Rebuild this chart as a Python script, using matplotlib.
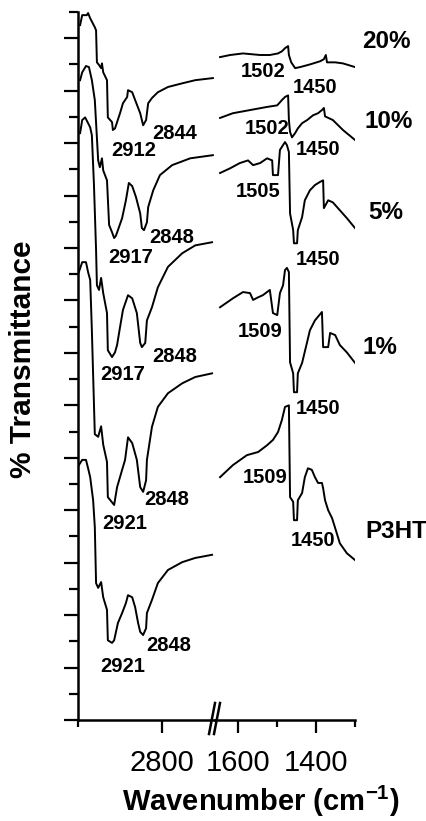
import numpy as np
import matplotlib.pyplot as plt
from matplotlib.lines import Line2D

plt.rcParams['font.family'] = ['Liberation Sans', 'DejaVu Sans']
plt.rcParams['mathtext.fontset'] = 'custom'
plt.rcParams['mathtext.default'] = 'bf'
plt.rcParams['mathtext.bf'] = 'Liberation Sans:bold'
plt.rcParams['mathtext.rm'] = 'Liberation Sans:bold'

# C-H stretching region (left panel), offset transmittance
wn_hi_20 = [2995, 2990, 2979, 2976, 2971, 2960, 2957, 2955, 2950, 2945, 2943, 2940, 2931, 2929, 2919, 2917,
            2912, 2907, 2900, 2893, 2883, 2881, 2871, 2864, 2852, 2845, 2838, 2833, 2824, 2810, 2786, 2752,
            2721, 2679]
t_hi_20 = [13.25, 13.44, 13.44, 13.48, 13.38, 13.21, 13.15, 12.54, 12.49, 12.43, 12.52, 12.35, 12.20, 11.49,
           11.40, 11.25, 11.28, 11.40, 11.57, 11.76, 11.88, 12.01, 11.97, 11.82, 11.57, 11.34, 11.44, 11.76,
           11.86, 11.97, 12.07, 12.14, 12.20, 12.24]

wn_hi_10 = [2995, 2990, 2981, 2974, 2967, 2960, 2952, 2948, 2943, 2940, 2931, 2926, 2919, 2914, 2910, 2905,
            2895, 2886, 2879, 2871, 2862, 2852, 2848, 2843, 2836, 2833, 2821, 2805, 2776, 2733, 2679]
t_hi_10 = [12.20, 12.35, 12.47, 12.45, 12.20, 11.82, 10.67, 10.54, 10.71, 10.48, 10.29, 9.44, 9.30, 9.19,
           9.23, 9.34, 9.57, 9.91, 10.24, 10.18, 9.97, 9.66, 9.38, 9.34, 9.49, 9.78, 10.10, 10.39, 10.58,
           10.71, 10.77]

wn_hi_5 = [2995, 2990, 2983, 2976, 2971, 2967, 2962, 2957, 2955, 2950, 2945, 2940, 2931, 2929, 2919, 2912,
           2907, 2900, 2893, 2881, 2871, 2860, 2852, 2848, 2840, 2836, 2824, 2810, 2786, 2752, 2721, 2681]
t_hi_5 = [11.19, 11.44, 11.49, 11.38, 11.30, 11.15, 10.20, 8.96, 8.29, 8.20, 8.43, 8.14, 7.76, 7.05, 6.92,
          7.01, 7.15, 7.49, 7.82, 8.10, 8.04, 7.76, 7.19, 7.11, 7.19, 7.62, 7.87, 8.25, 8.64, 8.90, 9.05, 9.11]

wn_hi_1 = [2998, 2990, 2981, 2976, 2971, 2967, 2960, 2952, 2945, 2940, 2931, 2929, 2919, 2914, 2907, 2895,
           2888, 2881, 2871, 2860, 2852, 2845, 2838, 2836, 2824, 2810, 2786, 2752, 2721, 2681]
t_hi_1 = [8.54, 8.73, 8.73, 8.54, 8.39, 7.43, 5.45, 5.40, 5.60, 5.25, 4.92, 4.25, 4.15, 4.10, 4.44, 4.77,
          4.96, 5.39, 5.28, 4.96, 4.44, 4.35, 4.57, 4.96, 5.59, 5.97, 6.23, 6.42, 6.54, 6.61]

wn_hi_p3ht = [2998, 2990, 2981, 2976, 2971, 2964, 2960, 2957, 2952, 2945, 2940, 2931, 2929, 2919, 2914, 2905,
              2895, 2886, 2881, 2871, 2864, 2857, 2852, 2845, 2838, 2836, 2824, 2810, 2786, 2752, 2721, 2681]
t_hi_p3ht = [4.86, 4.96, 4.96, 4.80, 4.63, 4.19, 3.68, 2.61, 2.52, 2.63, 2.34, 2.10, 1.52, 1.47, 1.52, 1.85,
             2.04, 2.23, 2.38, 2.34, 2.15, 1.85, 1.68, 1.62, 1.75, 2.04, 2.29, 2.61, 2.86, 3.01, 3.09, 3.15]

# ring stretching region (right panel)
wn_lo_20 = [1647, 1621, 1588, 1544, 1519, 1498, 1488, 1480, 1472, 1470, 1464, 1454, 1441, 1416, 1390, 1380,
            1375, 1372, 1351, 1331, 1300]
t_lo_20 = [12.64, 12.68, 12.71, 12.68, 12.68, 12.71, 12.75, 12.81, 12.85, 12.68, 12.54, 12.43, 12.45, 12.50,
           12.56, 12.60, 12.68, 12.54, 12.54, 12.52, 12.45]

wn_lo_10 = [1647, 1614, 1570, 1526, 1500, 1488, 1480, 1472, 1470, 1467, 1462, 1454, 1447, 1436, 1423, 1408,
            1395, 1385, 1380, 1377, 1357, 1331, 1300]
t_lo_10 = [11.48, 11.57, 11.63, 11.69, 11.72, 11.82, 11.88, 11.91, 11.44, 11.21, 11.11, 11.19, 11.28, 11.38,
           11.44, 11.53, 11.57, 11.63, 11.67, 11.51, 11.44, 11.25, 11.06]

wn_lo_5 = [1647, 1621, 1596, 1575, 1562, 1544, 1526, 1513, 1511, 1498, 1493, 1480, 1475, 1470, 1467, 1459,
           1457, 1449, 1447, 1436, 1429, 1416, 1403, 1390, 1382, 1380, 1369, 1357, 1339, 1321, 1300]
t_lo_5 = [10.43, 10.52, 10.62, 10.67, 10.58, 10.62, 10.71, 10.67, 10.39, 10.39, 10.87, 11.02, 10.96, 10.83,
          9.66, 9.34, 9.09, 9.09, 9.34, 9.59, 9.91, 10.10, 10.20, 10.26, 10.29, 9.76, 9.91, 9.87, 9.72, 9.57,
          9.38]

wn_lo_1 = [1647, 1614, 1588, 1570, 1562, 1549, 1537, 1519, 1511, 1500, 1493, 1485, 1480, 1475, 1470, 1467,
           1459, 1457, 1449, 1447, 1436, 1423, 1416, 1403, 1385, 1382, 1369, 1364, 1351, 1339, 1321, 1300]
t_lo_1 = [7.87, 8.04, 8.16, 8.14, 8.01, 8.06, 8.10, 8.20, 7.76, 7.72, 8.14, 8.29, 8.58, 8.62, 8.54, 6.82,
          6.61, 6.25, 6.25, 6.61, 6.81, 7.21, 7.43, 7.62, 7.78, 7.11, 7.11, 7.38, 7.34, 7.15, 7.01, 6.81]

wn_lo_p3ht = [1647, 1614, 1578, 1549, 1526, 1511, 1498, 1488, 1480, 1470, 1467, 1459, 1457, 1449, 1447, 1436,
              1429, 1421, 1411, 1403, 1395, 1385, 1382, 1377, 1369, 1359, 1351, 1339, 1321, 1300]
t_lo_p3ht = [4.63, 4.86, 5.05, 5.11, 5.24, 5.34, 5.49, 5.72, 5.97, 6.00, 4.25, 4.16, 3.81, 3.81, 4.19, 4.33,
             4.63, 4.80, 4.77, 4.63, 4.52, 4.52, 4.42, 4.19, 4.00, 3.85, 3.66, 3.37, 3.18, 3.05]

sample_names = ['20%', '10%', '5%', '1%', 'P3HT']

# peak annotations: text, wavenumber, y
peaks_hi = [('2844', 2770, 11.18), ('2912', 2868, 10.86), ('2917', 2874, 8.82), ('2848', 2777, 9.20),
            ('2917', 2894, 6.59), ('2848', 2769, 6.93), ('2921', 2889, 3.75), ('2848', 2789, 4.20),
            ('2921', 2894, 1.02), ('2848', 2785, 1.43)]
peaks_lo = [('1502', 1535, 12.36), ('1450', 1403, 12.06), ('1502', 1527, 11.28), ('1450', 1396, 10.87),
            ('1505', 1548, 10.07), ('1450', 1396, 8.78), ('1509', 1543, 7.41), ('1450', 1394, 5.94),
            ('1509', 1530, 4.62), ('1450', 1409, 3.42)]
name_pos = [(1220, 12.93), (1213, 11.41), (1221, 9.67), (1236, 7.10), (1194, 3.59)]

W, H = 427, 821
fig = plt.figure(figsize=(W / 100, H / 100), dpi=100)
ax1 = fig.add_axes([78 / W, 101 / H, 137 / W, 708 / H])
ax2 = fig.add_axes([215 / W, 101 / H, 140 / W, 708 / H])

hi = [(wn_hi_20, t_hi_20), (wn_hi_10, t_hi_10), (wn_hi_5, t_hi_5), (wn_hi_1, t_hi_1), (wn_hi_p3ht, t_hi_p3ht)]
lo = [(wn_lo_20, t_lo_20), (wn_lo_10, t_lo_10), (wn_lo_5, t_lo_5), (wn_lo_1, t_lo_1), (wn_lo_p3ht, t_lo_p3ht)]
for (x1, y1), (x2, y2) in zip(hi, lo):
    ax1.plot(x1, y1, color='k', lw=1.4)
    ax2.plot(x2, y2, color='k', lw=1.4)

for s, x, y in peaks_hi:
    ax1.text(x, y, s, ha='center', va='center', fontsize=14.5, fontweight='bold')
for s, x, y in peaks_lo:
    ax2.text(x, y, s, ha='center', va='center', fontsize=14.5, fontweight='bold')
for s, (x, y) in zip(sample_names, name_pos):
    ax2.text(x, y, s, ha='center', va='center', fontsize=17.5, fontweight='bold', clip_on=False)

for ax in (ax1, ax2):
    ax.set_ylim(0, 13.5)
    for sp in ax.spines.values():
        sp.set_linewidth(1.8)
    ax.spines['top'].set_visible(False)
    ax.spines['right'].set_visible(False)
    ax.tick_params(axis='x', which='major', length=9, width=1.6, labelsize=21, pad=12)
    ax.tick_params(axis='x', which='minor', length=5, width=1.6)

ax1.set_xlim(3000, 2674)
ax1.set_xticks([2800])
ax1.set_xticks([3000], minor=True)
ax1.set_yticks(np.arange(0, 14, 1))
ax1.set_yticks(np.arange(0.5, 14, 1), minor=True)
ax1.set_yticklabels([])
ax1.tick_params(axis='y', which='major', length=10, width=1.6)
ax1.tick_params(axis='y', which='minor', length=6.5, width=1.6)

ax2.set_xlim(1660, 1300)
ax2.set_xticks([1600, 1400])
ax2.set_xticks([1500, 1300], minor=True)
ax2.set_yticks([])
ax2.spines['left'].set_visible(False)
ax2.patch.set_visible(False)

# axis break marks
for cx in (212, 217):
    fig.add_artist(Line2D([(cx - 3) / W, (cx + 3) / W], [1 - 734 / H, 1 - 703 / H], color='k', lw=1.8))

fig.text(261 / W, 1 - 801 / H, r'Wavenumber (cm$^{-1}$)', ha='center', va='center',
         fontsize=21, fontweight='bold')
fig.text(23 / W, 1 - 359 / H, '% Transmittance', ha='center', va='center', rotation=90,
         fontsize=21.5, fontweight='bold')

fig.savefig('out.png', dpi=100)
